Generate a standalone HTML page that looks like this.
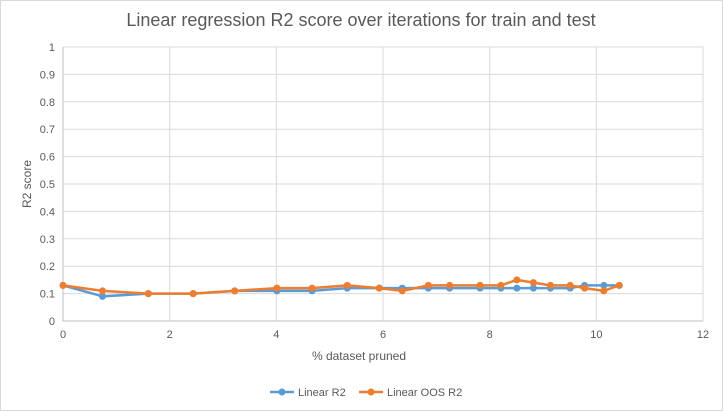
<!DOCTYPE html>
<html><head><meta charset="utf-8"><style>
body{margin:0;background:#fff;font-family:"Liberation Sans",sans-serif;}
svg text{font-family:"Liberation Sans",sans-serif;fill:#595959;}
</style></head><body>
<svg width="723" height="411">
<rect x="0.5" y="0.5" width="722" height="410" fill="#fff" stroke="#d9d9d9"/>
<text x="361" y="26" text-anchor="middle" font-size="18">Linear regression R2 score over iterations for train and test</text>
<g id="grid"></g><g id="axes"></g><g id="series"></g>
<text x="359" y="360" text-anchor="middle" font-size="12">% dataset pruned</text>
<text transform="translate(31,184) rotate(-90)" text-anchor="middle" font-size="12">R2 score</text>
<g>
<g><line x1="270" y1="392" x2="294" y2="392" stroke="#5b9bd5" stroke-width="2.5"/><circle cx="282" cy="392" r="3.5" fill="#5b9bd5"/><text x="298" y="396" font-size="11">Linear R2</text></g>
<g><line x1="359" y1="392" x2="383" y2="392" stroke="#ed7d31" stroke-width="2.5"/><circle cx="371" cy="392" r="3.5" fill="#ed7d31"/><text x="387" y="396" font-size="11">Linear OOS R2</text></g>
</g>
</svg>
<script>
const xValues=[0,0.74,1.6,2.44,3.22,4.01,4.67,5.33,5.93,6.36,6.85,7.25,7.82,8.21,8.51,8.82,9.14,9.51,9.78,10.14,10.43];
const linearR2=[0.13,0.09,0.10,0.10,0.11,0.11,0.11,0.12,0.12,0.12,0.12,0.12,0.12,0.12,0.12,0.12,0.12,0.12,0.13,0.13,0.13];
const linearOosR2=[0.13,0.11,0.10,0.10,0.11,0.12,0.12,0.13,0.12,0.11,0.13,0.13,0.13,0.13,0.15,0.14,0.13,0.13,0.12,0.11,0.13];
const xTicks=[0,2,4,6,8,10,12];
const yTicks=[0,0.1,0.2,0.3,0.4,0.5,0.6,0.7,0.8,0.9,1];
const NS="http://www.w3.org/2000/svg";
const X0=63,X1=703,Y0=321,Y1=47;
const sx=v=>X0+(v/12)*(X1-X0), sy=v=>Y0-v*(Y0-Y1);
function mk(t,a,p){const e=document.createElementNS(NS,t);for(const k in a)e.setAttribute(k,a[k]);p.appendChild(e);return e;}
const grid=document.getElementById('grid'),axes=document.getElementById('axes'),ser=document.getElementById('series');
yTicks.forEach(v=>{
 const l=mk('line',{x1:X0,x2:X1,y1:sy(v),y2:sy(v),stroke:v===0?'#bfbfbf':'#d9d9d9'},grid);
 
 
 const t=mk('text',{x:X0-8,y:sy(v)+4,'text-anchor':'end','font-size':11},axes);t.textContent=String(v);
 
 
});
xTicks.forEach(v=>{
 const l=mk('line',{x1:sx(v),x2:sx(v),y1:Y1,y2:Y0,stroke:v===0?'#bfbfbf':'#d9d9d9'},grid);
 
 
 const t=mk('text',{x:sx(v),y:Y0+17,'text-anchor':'middle','font-size':11},axes);t.textContent=String(v);
 
 
});
function draw(vals,color,name){
 const g=mk('g',{},ser);
 
 
 const pl=mk('polyline',{points:vals.map((v,i)=>sx(xValues[i])+','+sy(v)).join(' '),fill:'none',stroke:color,'stroke-width':2.5,'stroke-linejoin':'round'},g);
 
 
 vals.forEach((v,i)=>{const c=mk('circle',{cx:sx(xValues[i]),cy:sy(v),r:3.5,fill:color},g);
 
 });
}
draw(linearR2,'#5b9bd5','linear-r2');
draw(linearOosR2,'#ed7d31','linear-oos-r2');
</script>
</body></html>
